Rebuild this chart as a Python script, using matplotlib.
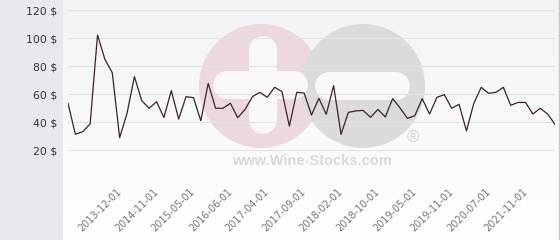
import numpy as np
import matplotlib
matplotlib.use('Agg')
import matplotlib.pyplot as plt
from matplotlib.patches import Circle, Rectangle

# prix mensuels ($)
prices = [53.4, 31.2, 33.1, 38.6, 102.1, 84.8, 75.2, 28.8, 46.2, 72.4,
          55.2, 49.8, 54.5, 43.3, 62.4, 42.1, 58.1, 57.4, 40.9, 67.6,
          49.8, 49.8, 53.4, 43.1, 49.0, 58.1, 61.2, 57.6, 64.8, 61.7,
          37.1, 61.2, 60.7, 45.0, 56.9, 45.5, 66.0, 31.2, 46.9, 47.9,
          48.3, 43.3, 49.0, 43.6, 56.7, 50.0, 42.6, 44.5, 56.7, 45.7,
          57.6, 59.5, 49.8, 52.6, 33.6, 53.4, 64.8, 60.5, 61.2, 64.8,
          51.9, 54.0, 54.0, 45.7, 49.8, 45.7, 38.3]
tick_labels = ['2013-12-01', '2014-11-01', '2015-05-01', '2016-06-01',
               '2017-04-01', '2017-09-01', '2018-02-01', '2018-10-01',
               '2019-05-01', '2019-11-01', '2020-07-01', '2021-11-01']
y_ticks = [0, 20, 40, 60, 80, 100, 120]

W, H = 560, 240
fig = plt.figure(figsize=(W / 100, H / 100), dpi=100)

# fond + filigrane, en pixels
bg = fig.add_axes([0, 0, 1, 1], zorder=0)
bg.set_xlim(0, W)
bg.set_ylim(H, 0)
bg.axis('off')
bg.add_patch(Rectangle((0, 0), 63, H, color='#e6eaee', lw=0))
grad = np.linspace(0, 1, 100).reshape(-1, 1)
bg.imshow(grad, extent=(63, 559, H, 0), cmap=matplotlib.colors.LinearSegmentedColormap.from_list(
    'g', ['#f2f3f7', '#ffffff']), aspect='auto')
bg.plot([559, 559], [0, H], color='#c8c8c8', lw=1)
bg.add_patch(Circle((261, 86), 62, color='#ecd8de', lw=0))
bg.add_patch(Circle((363, 86), 62, color='#dbdbdd', lw=0))
bar_w = 28 * 0.72
bg.plot([262.5, 262.5], [50, 120], color='#f8f8fa', lw=bar_w, solid_capstyle='round')
bg.plot([227, 294], [84.5, 84.5], color='#f8f8fa', lw=bar_w, solid_capstyle='round')
bg.plot([329, 396], [85.5, 85.5], color='#f8f8fa', lw=bar_w, solid_capstyle='round')
bg.text(312, 161, 'www.Wine-Stocks.com', family='Liberation Sans', weight='bold',
        fontsize=10.5, color='#dadada', ha='center', va='center')
bg.text(413, 138, '®', family='Liberation Sans', fontsize=12, color='#d2d2d2',
        ha='center', va='center')

# graphique principal
ax = fig.add_axes([68 / W, (H - 178) / H, (555 - 68) / W, 168 / H], zorder=1)
ax.patch.set_alpha(0)
x = np.arange(len(prices))
ax.plot(x, prices, color='#3b2230', lw=0.9)
ax.set_xlim(0, len(prices) - 1)
ax.set_ylim(0, 120)
ax.set_yticks(y_ticks)
ax.set_yticklabels(['' if v == 0 else f'{v} $' for v in y_ticks])
ax.set_xticks(x[7::5])
ax.set_xticklabels(tick_labels, rotation=45, ha='right', va='center',
                   rotation_mode='anchor', fontsize=7, color='#777777')
ax.tick_params(axis='x', length=0, pad=9)
ax.tick_params(axis='y', length=0, pad=8, labelsize=7.8, labelcolor='#333333')
ax.grid(axis='y', color='#e3e3e6', lw=0.8)
for s in ax.spines.values():
    s.set_visible(False)

fig.savefig('out.png', dpi=100)
